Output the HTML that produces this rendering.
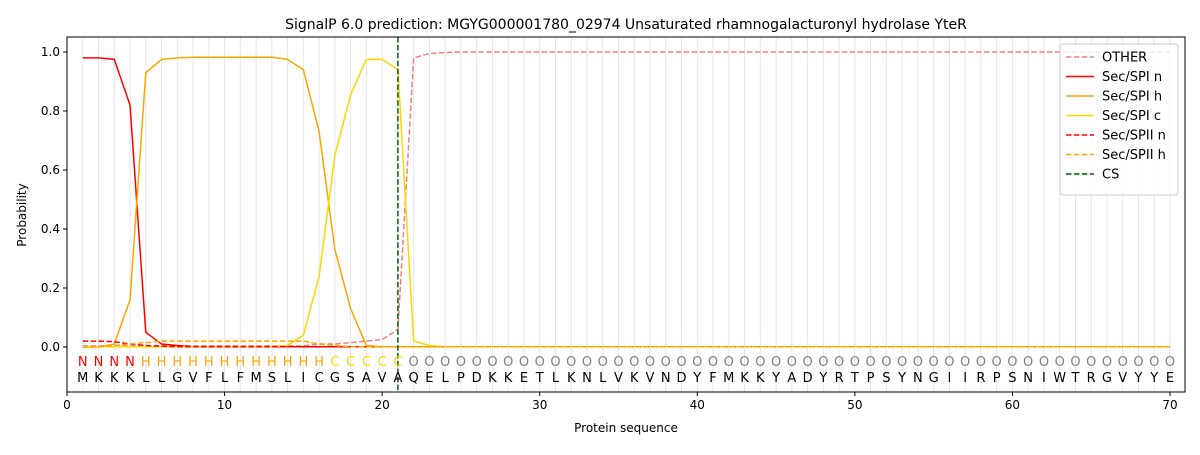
<!DOCTYPE html><html><head><meta charset="utf-8"><style>body{margin:0;background:#fff}svg{font-family:"DejaVu Sans","Liberation Sans",sans-serif}</style></head><body>
<svg id="s" width="1200" height="450" xmlns="http://www.w3.org/2000/svg"></svg>
<script>
const L=67,R=1185,T=37,B=392;
const X=v=>L+v*15.757, Y=v=>347-v*295;
const seq="MKKKLLGVFLFMSLICGSAVAQELPDKKETLKNLVKVNDYFMKKYADYRTPSYNGIIRPSNIWTRGVYYE";
function arr(p,def){const a=[];for(let i=1;i<=70;i++)a.push(p[i]!==undefined?p[i]:def);return a;}
const spin=arr({1:.98,2:.98,3:.975,4:.82,5:.05,6:.01,7:.005},0.001);
const h={1:0,2:0,3:.01,4:.16,5:.93,6:.975,7:.98,14:.975,15:.94,16:.73,17:.33,18:.13,19:.005};for(let i=8;i<=13;i++)h[i]=.982;
const spih=arr(h,0.001);
const spic=arr({14:.005,15:.04,16:.24,17:.65,18:.855,19:.975,20:.975,21:.94,22:.02,23:.005},0.001);
const o={16:.01,17:.01,18:.015,19:.02,20:.025,21:.06,22:.98,23:.995,24:.998};for(let i=1;i<16;i++)o[i]=.004;
const oth=arr(o,1.0);
const s2n=arr({1:.02,2:.02,3:.018,4:.01,5:.005,6:.003},0.001);
const hh={1:0,2:0,3:.005,4:.01,5:.015,16:.01,17:.005};for(let i=6;i<=15;i++)hh[i]=.02;
const s2h=arr(hh,0.001);
let g='';
for(let i=1;i<=70;i++)g+=`<line x1="${X(i)}" x2="${X(i)}" y1="${T}" y2="${B}" stroke="#e6e6e6" stroke-width="1"/>`;
function pl(a,c,d){return `<polyline fill="none" stroke="${c}" stroke-width="1.5" ${d?'stroke-dasharray="5.5,2.4"':''} points="${a.map((v,i)=>X(i+1)+','+Y(v)).join(' ')}"/>`;}
g+=pl(oth,'#f08080',1)+pl(spin,'#ff0000')+pl(spih,'#ffa500')+pl(spic,'#ffd700')+pl(s2n,'#ff0000',1)+pl(s2h,'#ffa500',1);
g+=`<line x1="${X(21)}" x2="${X(21)}" y1="${T}" y2="${B}" stroke="#006400" stroke-width="1.5" stroke-dasharray="5.5,2.4"/>`;
for(let i=1;i<=70;i++){let lab,c;if(i<=4){lab='N';c='#ff0000'}else if(i<=16){lab='H';c='#ffa500'}else if(i<=21){lab='C';c='#ffd700'}else{lab='O';c='#808080'}
g+=`<text x="${X(i)}" y="366" font-size="13" fill="${c}" text-anchor="middle">${lab}</text><text x="${X(i)}" y="382" font-size="13" fill="#000" text-anchor="middle">${seq[i-1]}</text>`;}
g+=`<rect x="${L}" y="${T}" width="${R-L}" height="${B-T}" fill="none" stroke="#000" stroke-width="1"/>`;
for(let v=0;v<=70;v+=10)g+=`<line x1="${X(v)}" x2="${X(v)}" y1="${B}" y2="${B+4}" stroke="#000"/><text x="${X(v)}" y="${B+17}" font-size="12" text-anchor="middle">${v}</text>`;
for(let k=0;k<=5;k++){const v=k*.2;g+=`<line x1="${L-4}" x2="${L}" y1="${Y(v)}" y2="${Y(v)}" stroke="#000"/><text x="${L-7}" y="${Y(v)+4}" font-size="12" text-anchor="end">${v.toFixed(1)}</text>`;}
g+=`<text x="626" y="432" font-size="12" text-anchor="middle">Protein sequence</text>`;
g+=`<text x="26" y="215" font-size="12" text-anchor="middle" transform="rotate(-90 26 215)">Probability</text>`;
g+=`<text x="626" y="29" font-size="14" text-anchor="middle">SignalP 6.0 prediction: MGYG000001780_02974 Unsaturated rhamnogalacturonyl hydrolase YteR</text>`;
g+=`<rect x="1060" y="44" width="118" height="151" rx="3" fill="#fff" fill-opacity="0.8" stroke="#ccc"/>`;
const lg=[['OTHER','#f08080',1],['Sec/SPI n','#ff0000'],['Sec/SPI h','#ffa500'],['Sec/SPI c','#ffd700'],['Sec/SPII n','#ff0000',1],['Sec/SPII h','#ffa500',1],['CS','#006400',1]];
lg.forEach((e,i)=>{const y=57+i*19.5;g+=`<line x1="1066" x2="1094" y1="${y}" y2="${y}" stroke="${e[1]}" stroke-width="1.5" ${e[2]?'stroke-dasharray="5.5,2.4"':''}/><text x="1102" y="${y+4.5}" font-size="13">${e[0]}</text>`;});
document.getElementById('s').innerHTML=g;
</script></body></html>
